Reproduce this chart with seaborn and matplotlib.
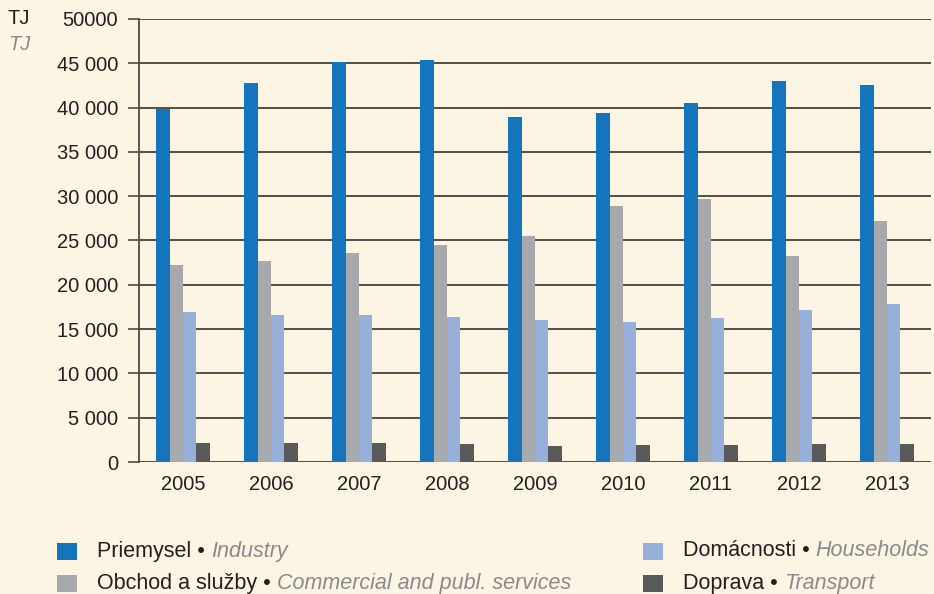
import numpy as np
import matplotlib
matplotlib.use('Agg')
import matplotlib.pyplot as plt
import matplotlib.patches as mpatches
import seaborn as sns
import pandas as pd

years = ['2005', '2006', '2007', '2008', '2009', '2010', '2011', '2012', '2013']
industry = [39800, 42800, 45100, 45400, 38900, 39400, 40500, 43000, 42500]
commercial = [22200, 22700, 23600, 24500, 25500, 28900, 29700, 23250, 27200]
households = [16900, 16600, 16600, 16400, 16000, 15800, 16250, 17150, 17800]
transport = [2180, 2180, 2180, 2070, 1800, 1900, 1900, 2030, 2030]

series_sk = ['Priemysel', 'Obchod a služby', 'Domácnosti', 'Doprava']
series_en = ['Industry', 'Commercial and publ. services', 'Households', 'Transport']
colors = ['#1474bc', '#a8a9ad', '#97afdb', '#58595b']

yticks = [0, 5000, 10000, 15000, 20000, 25000, 30000, 35000, 40000, 45000, 50000]
ytick_labels = ['0', '5 000', '10 000', '15 000', '20 000', '25 000', '30 000',
                '35 000', '40 000', '45 000', '50000']

bg = '#fdf5e4'
fs = 14.5
leg_fs = 15.5
sns.set_theme(style='white')
plt.rcParams['font.family'] = ['Liberation Sans', 'DejaVu Sans']

df = pd.DataFrame({
    'year': years * 4,
    'series': np.repeat(series_sk, len(years)),
    'value': industry + commercial + households + transport,
})

fig = plt.figure(figsize=(9.34, 5.94), dpi=100, facecolor=bg)
ax = fig.add_axes([139 / 934, 1 - 462 / 594, (931 - 139) / 934, (462 - 19) / 594])
ax.set_facecolor(bg)

sns.barplot(data=df, x='year', y='value', hue='series', order=years,
            hue_order=series_sk, palette=colors, width=0.61, gap=0,
            saturation=1, legend=False, ax=ax, linewidth=0)

ax.set_xlim(-0.5, 8.5)
ax.set_ylim(0, 50000)
ax.set_yticks(yticks)
ax.set_yticklabels(ytick_labels, fontsize=fs, color='#231f20')
ax.tick_params(axis='x', labelsize=fs, colors='#231f20', length=0, pad=9)
ax.tick_params(axis='y', length=8, width=1.2, color='#4d4a47', left=True, pad=7)
ax.set_xlabel('')
ax.set_ylabel('')
ax.yaxis.grid(True, color='#45423f', linewidth=1.3)
ax.set_axisbelow(True)
for s in ['top', 'right', 'bottom']:
    ax.spines[s].set_visible(False)
ax.spines['left'].set_color('#4d4a47')
ax.spines['left'].set_linewidth(1.3)

fig.text(8 / 934, 1 - 18 / 594, 'TJ', fontsize=fs, color='#231f20', va='center')
fig.text(8 / 934, 1 - 45 / 594, 'TJ', fontsize=fs, color='#8a8a8c',
         style='italic', va='center')

# legend drawn by hand: black Slovak name + grey italic English name
fig.canvas.draw()
renderer = fig.canvas.get_renderer()
legend_pos = [(57, 551), (57, 583), (643, 551), (643, 583)]
for i, (px, py) in enumerate(legend_pos):
    fig.patches.append(mpatches.Rectangle((px / 934, 1 - (py + 9) / 594), 20 / 934, 17 / 594,
                                          transform=fig.transFigure, color=colors[i], lw=0))
    t = fig.text((px + 40) / 934, 1 - py / 594, series_sk[i] + ' • ', fontsize=leg_fs,
                 color='#231f20', va='center')
    bb = t.get_window_extent(renderer)
    fig.text(bb.x1 / 934, 1 - py / 594, series_en[i], fontsize=leg_fs,
             color='#8a8a8c', style='italic', va='center')

fig.savefig('out.png', dpi=100, facecolor=bg)
